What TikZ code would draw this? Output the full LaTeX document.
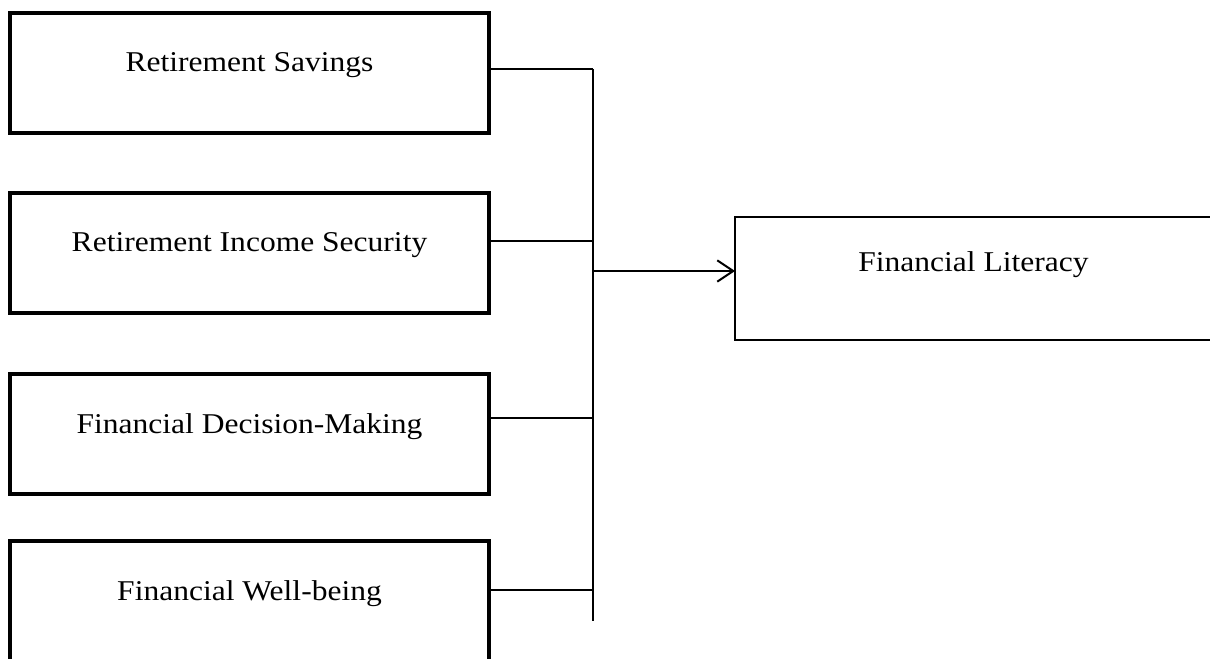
\documentclass[tikz,border=0pt]{standalone}
\usepackage{fontspec}
\setmainfont{Liberation Serif}[FakeStretch=1.1]
\usetikzlibrary{arrows.meta,calc}
\tikzset{
  leftbox/.style={draw=black, line width=3pt, rectangle, inner sep=0pt, outer sep=0pt,
    minimum width=359.25pt, minimum height=90pt, anchor=north west},
  rightbox/.style={draw=black, line width=1.6pt, rectangle, inner sep=0pt, outer sep=0pt,
    minimum width=357.75pt, minimum height=92.25pt, anchor=north west},
  lbl/.style={font=\fontsize{21.5}{25}\selectfont, anchor=base, inner sep=0pt},
  conn/.style={draw=black, line width=1.5pt},
}
\begin{document}
\begin{tikzpicture}[x=0.75pt,y=-0.75pt]
\useasboundingbox (0,0) rectangle (1210,659);
\fill[white] (0,0) rectangle (1210,659);
\clip (0,0) rectangle (1210,659);
% boxes
\node[leftbox] (b1) at (10,13) {};
\node[leftbox] (b2) at (10,193) {};
\node[leftbox] (b3) at (10,374) {};
\node[leftbox] (b4) at (10,541) {};
\node[rightbox] (fl) at (735,217) {};
% labels
\node[lbl] (t1) at ($(b1.north)+(0,59)$) {Retirement Savings};
\node[lbl] (t2) at ($(b2.north)+(0,59)$) {Retirement Income Security};
\node[lbl] (t3) at ($(b3.north)+(0,59)$) {Financial Decision-Making};
\node[lbl] (t4) at ($(b4.north)+(0,59)$) {Financial Well-being};
\node[lbl] (t5) at ($(fl.north)+(0,55)$) {Financial Literacy};
% spine
\coordinate (spinetop) at (593,69);
\coordinate (spinebot) at (593,621);
\coordinate (s1) at ($(b1.north east)+(0,56)$);
\coordinate (s2) at ($(b2.north east)+(0,48)$);
\coordinate (s3) at ($(b3.north east)+(0,44)$);
\coordinate (s4) at ($(b4.north east)+(0,49)$);
\coordinate (ja) at ($(fl.north west)+(0,54)$);
\draw[conn] (s1) -- (s1 -| spinetop);
\draw[conn] (s2) -- (s2 -| spinetop);
\draw[conn] (s3) -- (s3 -| spinetop);
\draw[conn] (s4) -- (s4 -| spinetop);
\draw[conn] (spinetop) -- (spinebot);
\draw[conn, -{Straight Barb[length=12pt,width=16pt,line width=1.5pt]}] (ja -| spinetop) -- (ja);
\end{tikzpicture}
\end{document}
